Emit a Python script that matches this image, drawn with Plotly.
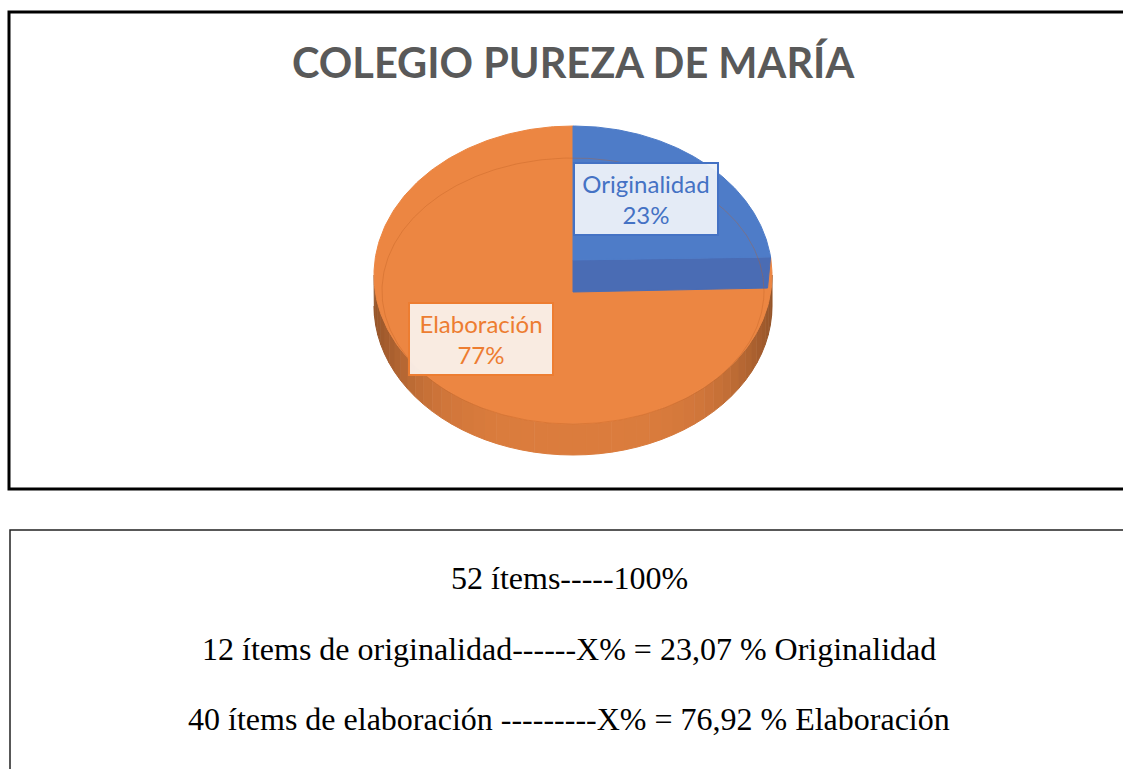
import numpy as np
import plotly.graph_objects as go

# ---------------- data ----------------
title_text = "COLEGIO PUREZA DE MARÍA"
categories = ["Originalidad", "Elaboración"]
items = [12, 40]
total_items = 52
note_lines = [
    "52 ítems-----100%",
    "12 ítems de originalidad------X% = 23,07 % Originalidad",
    "40 ítems de elaboración ---------X% = 76,92 % Elaboración",
]

# ---------------- style ----------------
W, H = 1123, 769
CX, CY, RX, RY, DEPTH = 573, 275, 199, 149, 31
LIFT = 15  # blue slice vertex lift (3D look)
top_colors = ["#4E7CC8", "#EC8642"]
text_colors = ["#4472C4", "#ED7D31"]
box_bg = ["rgba(236,241,249,0.95)", "rgba(250,240,234,0.95)"]

fig = go.Figure()


def ell(theta_deg, rx=RX, ry=RY, cx=CX, cy=CY):
    t = np.radians(theta_deg)
    return cx + rx * np.cos(t), cy - ry * np.sin(t)


# angles (clockwise from 12 o'clock)
fracs = np.array(items, dtype=float) / sum(items)
starts = 90 - np.concatenate([[0], np.cumsum(fracs)[:-1]]) * 360
ends = starts - fracs * 360

# ---- side wall of orange (front half), shaded strips ----
n_strips = 48
edges = np.linspace(180, 360, n_strips + 1)
for a0, a1 in zip(edges[:-1], edges[1:]):
    th = np.linspace(a0, a1, 6)
    xt, yt = ell(th)
    xs = np.concatenate([xt, xt[::-1]])
    ys = np.concatenate([yt, yt[::-1] + DEPTH])
    mid = np.radians((a0 + a1) / 2)
    c = abs(np.cos(mid))
    k = 0.93 - 0.30 * c ** 4
    r, g, b = int(236 * k), int(134 * k), int(66 * k)
    col = f"rgb({r},{g},{b})"
    fig.add_trace(go.Scatter(x=xs, y=ys, fill="toself", fillcolor=col, mode="lines",
                             line=dict(color=col, width=1), hoverinfo="skip", showlegend=False))

# ---- orange top face (slice 2) ----
th = np.linspace(starts[1], ends[1], 300)
xo, yo = ell(th)
fig.add_trace(go.Scatter(x=np.concatenate([[CX], xo, [CX]]), y=np.concatenate([[CY], yo, [CY]]),
                         fill="toself", fillcolor=top_colors[1], mode="lines",
                         line=dict(color=top_colors[1], width=1), hoverinfo="skip", showlegend=False))
thf = np.linspace(0, 360, 400)

# ---- blue slice: radial end band ----
pe_x, pe_y = ell(ends[0])
band_x = [CX, pe_x, pe_x - 3, CX, CX]
band_y = [CY - LIFT, pe_y, pe_y + DEPTH, CY + 17, CY - LIFT]
fig.add_trace(go.Scatter(x=band_x, y=band_y, fill="toself", fillcolor="#4A6CB4", mode="lines",
                         line=dict(color="#4A6CB4", width=1), hoverinfo="skip", showlegend=False))

# ---- blue top face ----
th = np.linspace(starts[0], ends[0], 200)
xb, yb = ell(th)
fig.add_trace(go.Scatter(x=np.concatenate([[CX], xb, [CX]]), y=np.concatenate([[CY - LIFT], yb, [CY - LIFT]]),
                         fill="toself", fillcolor=top_colors[0], mode="lines",
                         line=dict(color=top_colors[0], width=1), hoverinfo="skip", showlegend=False))

# ---- faint bevel line ----
xi, yi = ell(thf, rx=RX - 8, ry=RY - 16, cy=CY + 16)
fig.add_trace(go.Scatter(x=xi, y=yi, mode="lines", line=dict(color="rgba(190,95,35,0.35)", width=1),
                         hoverinfo="skip", showlegend=False))

# ---- labels ----
pcts = [round(v / total_items * 100) for v in items]
label_pos = [(646, 199), (481, 339)]
for i, cat in enumerate(categories):
    fig.add_annotation(x=label_pos[i][0], y=label_pos[i][1], xref="x", yref="y",
                       text=f"{cat}<br>{pcts[i]}%", showarrow=False,
                       font=dict(family="Lato", size=24, color=text_colors[i]),
                       bgcolor=box_bg[i], bordercolor=text_colors[i], borderwidth=2,
                       borderpad=2, width=138, height=66, align="center")

# ---- title ----
fig.add_annotation(x=573, y=62, xref="x", yref="y", text=f"<b>{title_text}</b>", showarrow=False,
                   font=dict(family="Lato", size=41.5, color="#595959"))

# ---- note text ----
for yv, line in zip([578, 649, 719], note_lines):
    fig.add_annotation(x=569, y=yv, xref="x", yref="y", text=line, showarrow=False,
                       font=dict(family="Liberation Serif", size=32, color="black"))

# ---- frames ----
fig.add_shape(type="rect", xref="x", yref="y", x0=9, y0=12, x1=1135, y1=489,
              line=dict(color="black", width=3), fillcolor="rgba(0,0,0,0)", layer="below")
fig.add_shape(type="rect", xref="x", yref="y", x0=10, y0=530, x1=1135, y1=800,
              line=dict(color="#222222", width=1.5), fillcolor="rgba(0,0,0,0)", layer="below")

fig.update_layout(
    width=W, height=H, margin=dict(l=0, r=0, t=0, b=0),
    paper_bgcolor="white", plot_bgcolor="white", showlegend=False,
    xaxis=dict(range=[0, W], visible=False, fixedrange=True),
    yaxis=dict(range=[H, 0], visible=False, fixedrange=True),
)

fig.write_html("out.html", config={"displayModeBar": False},
               post_script="document.body.style.margin='0';document.body.style.overflow='hidden';")
